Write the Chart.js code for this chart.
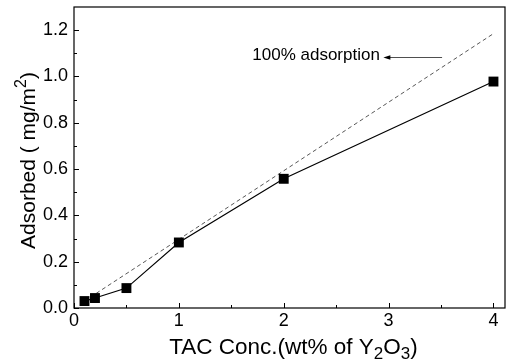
<!DOCTYPE html>
<html>
<head>
<meta charset="utf-8">
<script src="https://cdn.jsdelivr.net/npm/chart.js@4"></script>
<style>
html,body{margin:0;padding:0;background:#fff;}
#wrap{width:512px;height:364px;position:relative;}
</style>
</head>
<body>
<div id="wrap"><canvas id="c" width="512" height="364"></canvas></div>
<script>
// ---- data ----
const concentrations = [0.1, 0.2, 0.5, 1, 2, 4];
const adsorbed = [0.03, 0.043, 0.086, 0.283, 0.558, 0.978];
const fullX = [0.1, 4];
const fullY = [0.03, 1.185];
const xTickValues = [0, 1, 2, 3, 4];
const yTickValues = [0, 0.2, 0.4, 0.6, 0.8, 1.0, 1.2];
const xMinorValues = [0.5, 1.5, 2.5, 3.5];
const yMinorValues = [0.1, 0.3, 0.5, 0.7, 0.9, 1.1];
const annotationText = '100% adsorption';
const annotationAt = {x: 1.70, y: 1.07};
const arrowFrom = {x: 3.51, y: 1.085};
const arrowTo = {x: 2.95, y: 1.085};

const FONT = '"Liberation Sans", Arial, Helvetica, sans-serif';

const decor = {
  id: 'decor',
  afterDraw(chart) {
    const ctx = chart.ctx, a = chart.chartArea;
    const xs = chart.scales.x, ys = chart.scales.y;
    ctx.save();
    ctx.strokeStyle = '#000';
    ctx.lineWidth = 1.2;
    ctx.strokeRect(a.left, a.top, a.right - a.left, a.bottom - a.top);
    ctx.lineWidth = 1;
    ctx.beginPath();
    xTickValues.forEach(v => { const p = Math.round(xs.getPixelForValue(v)) + 0.5; ctx.moveTo(p, a.bottom); ctx.lineTo(p, a.bottom - 5); });
    xMinorValues.forEach(v => { const p = Math.round(xs.getPixelForValue(v)) + 0.5; ctx.moveTo(p, a.bottom); ctx.lineTo(p, a.bottom - 3); });
    yTickValues.forEach(v => { const p = Math.round(ys.getPixelForValue(v)) + 0.5; ctx.moveTo(a.left, p); ctx.lineTo(a.left + 5, p); });
    yMinorValues.forEach(v => { const p = Math.round(ys.getPixelForValue(v)) + 0.5; ctx.moveTo(a.left, p); ctx.lineTo(a.left + 3, p); });
    ctx.stroke();

    // annotation
    ctx.fillStyle = '#000';
    ctx.font = '17px ' + FONT;
    ctx.textBaseline = 'alphabetic';
    ctx.textAlign = 'left';
    ctx.fillText(annotationText, xs.getPixelForValue(annotationAt.x), ys.getPixelForValue(annotationAt.y));
    const ax1 = xs.getPixelForValue(arrowFrom.x), ay = Math.round(ys.getPixelForValue(arrowFrom.y)) + 0.5;
    const ax2 = xs.getPixelForValue(arrowTo.x);
    ctx.lineWidth = 0.8;
    ctx.strokeStyle = '#222';
    ctx.beginPath(); ctx.moveTo(ax1, ay); ctx.lineTo(ax2 + 4, ay); ctx.stroke();
    ctx.fillStyle = '#000';
    ctx.beginPath(); ctx.moveTo(ax2, ay); ctx.lineTo(ax2 + 7, ay - 2.2); ctx.lineTo(ax2 + 7, ay + 2.2); ctx.closePath(); ctx.fill();

    // x title with subscripts
    const big = '22.5px ' + FONT, small = '17px ' + FONT;
    const parts = [['TAC Conc.(wt% of Y', big, 0], ['2', small, 5], ['O', big, 0], ['3', small, 5], [')', big, 0]];
    let total = 0;
    parts.forEach(p => { ctx.font = p[1]; total += ctx.measureText(p[0]).width; });
    let x = (a.left + a.right) / 2 - total / 2 + 4;
    const base = 354;
    ctx.textAlign = 'left';
    parts.forEach(p => { ctx.font = p[1]; ctx.fillText(p[0], x, base + p[2]); x += ctx.measureText(p[0]).width; });

    // y title with superscript
    const ybig = '21px ' + FONT, ysmall = '16px ' + FONT;
    const yparts = [['Adsorbed ( mg/m', ybig, 0], ['2', ysmall, -9], [')', ybig, 0]];
    total = 0;
    yparts.forEach(p => { ctx.font = p[1]; total += ctx.measureText(p[0]).width; });
    ctx.translate(35, (a.top + a.bottom) / 2 + 3);
    ctx.rotate(-Math.PI / 2);
    x = -total / 2;
    yparts.forEach(p => { ctx.font = p[1]; ctx.fillText(p[0], x, p[2]); x += ctx.measureText(p[0]).width; });
    ctx.restore();
  }
};

new Chart(document.getElementById('c'), {
  type: 'scatter',
  data: {
    datasets: [
      {
        label: 'Adsorbed',
        data: concentrations.map((c, i) => ({x: c, y: adsorbed[i]})),
        showLine: true,
        borderColor: '#000',
        borderWidth: 1.2,
        backgroundColor: '#000',
        pointStyle: 'rect',
        pointRadius: 7,
        pointHoverRadius: 7,
        pointBorderWidth: 0,
        order: 1
      },
      {
        label: '100% adsorption',
        data: fullX.map((c, i) => ({x: c, y: fullY[i]})),
        showLine: true,
        borderColor: '#444',
        borderWidth: 0.9,
        borderDash: [4, 3],
        pointRadius: 0,
        order: 2
      }
    ]
  },
  options: {
    responsive: false,
    animation: false,
    events: [],
    layout: {padding: {top: 5, right: 5, left: 0, bottom: 0}},
    plugins: {legend: {display: false}, tooltip: {enabled: false}},
    scales: {
      x: {
        type: 'linear', min: 0, max: 4.11,
        afterBuildTicks: s => { s.ticks = xTickValues.map(v => ({value: v})); },
        afterFit: s => { s.height = 56; s.paddingLeft = 0; s.paddingRight = 0; },
        grid: {display: false, drawTicks: false},
        border: {display: false},
        ticks: {color: '#000', font: {family: FONT, size: 18}, padding: 2, maxRotation: 0,
                callback: v => String(v)}
      },
      y: {
        type: 'linear', min: 0, max: 1.3,
        afterBuildTicks: s => { s.ticks = yTickValues.map(v => ({value: v})); },
        afterFit: s => { s.width = 74; s.paddingTop = 0; s.paddingBottom = 0; },
        grid: {display: false, drawTicks: false},
        border: {display: false},
        ticks: {color: '#000', font: {family: FONT, size: 18}, padding: 6,
                callback: v => Number(v).toFixed(1)}
      }
    }
  },
  plugins: [decor]
});
</script>
</body>
</html>
